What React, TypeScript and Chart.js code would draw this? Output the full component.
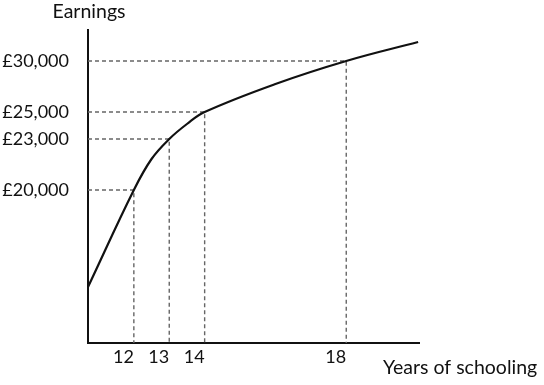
import React, { useEffect, useRef } from 'react';
import { Chart, registerables } from 'chart.js';

Chart.register(...registerables);

// Guide points (years of schooling -> earnings level on the schematic axis)
const years = [12, 13, 14, 18];
const earningsLevel = [15.3, 20.4, 23.1, 28.2];
const earningsLabels = ['£20,000', '£23,000', '£25,000', '£30,000'];

// Earnings curve (schematic)
const curveYears = [10.705, 12, 12.5, 13, 13.5, 14, 16, 18, 20.03];
const curveEarnings = [5.6, 15.3, 18.4, 20.4, 21.9, 23.1, 25.9, 28.2, 30.1];

const xTitle = 'Years of schooling';
const yTitle = 'Earnings';

const X_MIN = 10.705;
const X_MAX = 20.055;
const Y_MIN = 0;
const Y_MAX = 31.3;

const FONT = 'Lato, "Open Sans", sans-serif';
const INK = '#111111';
const GUIDE = '#666666';

const titlesPlugin = {
  id: 'axisTitles',
  afterDraw(chart: any) {
    const { ctx, chartArea } = chart;
    ctx.save();
    ctx.fillStyle = INK;
    ctx.font = `19.5px ${FONT}`;
    ctx.textBaseline = 'alphabetic';
    ctx.textAlign = 'center';
    ctx.fillText(yTitle, chartArea.left + 1, 18);
    ctx.textAlign = 'left';
    ctx.fillText(xTitle, chartArea.right - 36, 374);
    ctx.restore();
  },
};

export default function App() {
  const canvasRef = useRef<HTMLCanvasElement | null>(null);

  useEffect(() => {
    if (!canvasRef.current) return;

    const guideSets = years.map((yr, i) => ({
      data: [
        { x: X_MIN, y: earningsLevel[i] },
        { x: yr, y: earningsLevel[i] },
        { x: yr, y: Y_MIN },
      ],
      borderColor: GUIDE,
      borderWidth: 1.4,
      borderDash: [4, 3],
      pointRadius: 0,
      tension: 0,
      clip: false as any,
    }));

    const chart = new Chart(canvasRef.current, {
      type: 'line',
      data: {
        datasets: [
          {
            data: curveYears.map((x, i) => ({ x, y: curveEarnings[i] })),
            borderColor: INK,
            borderWidth: 2.2,
            pointRadius: 0,
            tension: 0.4,
            clip: false as any,
          },
          ...guideSets,
        ] as any,
      },
      options: {
        animation: false,
        responsive: false,
        devicePixelRatio: 1,
        layout: { padding: { left: 0, top: 30, right: 125, bottom: 0 } },
        plugins: {
          legend: { display: false },
          tooltip: { enabled: false },
        },
        scales: {
          x: {
            type: 'linear',
            min: X_MIN,
            max: X_MAX,
            grid: { display: false, drawTicks: false },
            border: { display: true, color: INK, width: 2 },
            afterBuildTicks: (scale: any) => {
              scale.ticks = years.map((v) => ({ value: v }));
            },
            afterFit: (scale: any) => {
              scale.height = 42;
            },
            ticks: {
              align: 'end',
              padding: 3,
              color: INK,
              font: { family: FONT, size: 18 },
              maxRotation: 0,
              autoSkip: false,
              callback: (_v: any, i: number) => String(years[i]),
            },
          },
          y: {
            type: 'linear',
            min: Y_MIN,
            max: Y_MAX,
            grid: { display: false, drawTicks: false },
            border: { display: true, color: INK, width: 2 },
            afterBuildTicks: (scale: any) => {
              scale.ticks = earningsLevel.map((v) => ({ value: v }));
            },
            afterFit: (scale: any) => {
              scale.width = 88;
            },
            ticks: {
              padding: 19,
              color: INK,
              font: { family: FONT, size: 18 },
              autoSkip: false,
              callback: (_v: any, i: number) => earningsLabels[i],
            },
          },
        },
      } as any,
      plugins: [titlesPlugin],
    });

    return () => chart.destroy();
  }, []);

  return (
    <div style={{ position: 'absolute', left: 0, top: 0, width: 544, height: 385, background: '#fff' }}>
      <canvas ref={canvasRef} width={544} height={385} />
    </div>
  );
}
